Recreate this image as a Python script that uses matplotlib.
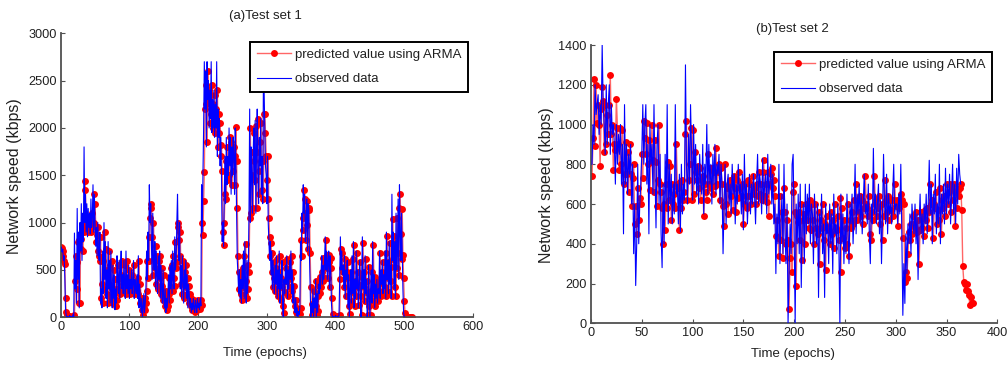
import numpy as np
import matplotlib
matplotlib.use("Agg")
import matplotlib.pyplot as plt
from matplotlib.lines import Line2D

plt.rcParams['font.family'] = ['Liberation Sans', 'DejaVu Sans']

# ---------------- Test set 1 ----------------
obs1 = [
    740, 690, 720, 600, 650, 420, 90, 20, 0, 10,
    0, 0, 20, 0, 10, 0, 0, 30, 0, 890,
    300, 600, 150, 1150, 400, 900, 100, 1000, 700, 1200,
    600, 1100, 800, 1800, 1000, 1300, 900, 1200, 850, 1150,
    950, 1100, 880, 1250, 950, 1050, 1400, 900, 1300, 1000,
    750, 950, 650, 1000, 700, 600, 900, 150, 300, 100,
    700, 250, 1000, 400, 800, 200, 500, 100, 800, 300,
    600, 150, 700, 250, 100, 550, 200, 450, 80, 300,
    150, 650, 400, 250, 600, 200, 500, 700, 300, 450,
    250, 600, 350, 200, 700, 300, 450, 250, 550, 200,
    400, 300, 500, 250, 350, 600, 200, 400, 300, 250,
    450, 200, 650, 100, 350, 150, 50, 200, 0, 100,
    250, 50, 150, 300, 700, 400, 900, 600, 1400, 1000,
    1200, 800, 400, 1100, 600, 500, 800, 300, 700, 450,
    250, 650, 400, 700, 200, 550, 300, 150, 500, 200,
    100, 300, 50, 200, 100, 250, 450, 150, 550, 300,
    600, 250, 700, 400, 300, 850, 500, 600, 1000, 1300,
    800, 600, 1000, 300, 550, 200, 650, 400, 150, 500,
    300, 600, 200, 450, 100, 350, 250, 100, 200, 50,
    150, 80, 200, 100, 50, 180, 120, 50, 200, 100,
    150, 80, 200, 120, 1400, 900, 1500, 2000, 2700, 2200,
    2600, 1800, 2700, 2300, 2500, 2000, 2400, 2100, 2700, 1950,
    2300, 2000, 2400, 1900, 2250, 2000, 2700, 1700, 2200, 1900,
    2100, 1600, 1900, 1500, 800, 1000, 750, 1300, 1700, 1200,
    1900, 1400, 1700, 1500, 2000, 1600, 1900, 1300, 1800, 1500,
    1900, 1700, 1300, 2000, 1600, 1100, 600, 450, 250, 500,
    200, 400, 150, 550, 300, 700, 200, 800, 350, 150,
    600, 250, 500, 1100, 2200, 1000, 1800, 1500, 1100, 1700,
    2000, 1400, 2080, 1100, 1800, 2200, 1500, 1200, 1900, 1600,
    2100, 1300, 1700, 1200, 2500, 2400, 2000, 1600, 1500, 1200,
    1700, 1000, 800, 600, 800, 450, 700, 300, 600, 400,
    250, 550, 350, 650, 200, 500, 300, 700, 150, 450,
    300, 600, 100, 0, 400, 250, 550, 350, 650, 200,
    500, 300, 600, 400, 700, 250, 500, 150, 350, 100,
    50, 200, 20, 100, 0, 60, 30, 100, 800, 600,
    1100, 900, 1400, 1100, 1300, 800, 1000, 1250, 700, 1200,
    1150, 650, 300, 0, 150, 50, 300, 0, 200, 100,
    400, 0, 250, 50, 350, 250, 450, 300, 500, 650,
    350, 550, 400, 600, 850, 500, 700, 400, 600, 700,
    300, 650, 500, 150, 20, 0, 10, 0, 0, 20,
    0, 0, 10, 0, 20, 400, 850, 500, 700, 450,
    550, 300, 650, 200, 500, 400, 600, 100, 450, 0,
    300, 500, 150, 650, 250, 800, 100, 400, 200, 700,
    300, 500, 100, 350, 600, 200, 0, 450, 850, 300,
    500, 150, 650, 250, 400, 0, 100, 550, 200, 0,
    300, 500, 150, 800, 250, 450, 100, 350, 200, 400,
    150, 300, 250, 700, 200, 500, 350, 600, 250, 450,
    300, 700, 200, 900, 400, 600, 250, 800, 350, 550,
    200, 1300, 600, 900, 300, 800, 200, 1100, 500, 700,
    1250, 400, 1400, 900, 600, 1100, 700, 300, 50, 0,
]

pred1 = [
    740, 730, 650, 700, 600, 560, 200, 60, 20, 0,
    5, 0, 0, 10, 0, 5, 0, 0, 20, 0,
    380, 650, 300, 580, 800, 150, 820, 150, 830, 720,
    980, 700, 950, 900, 1440, 1350, 1000, 950, 1050, 900,
    1000, 980, 1050, 900, 1100, 950, 1000, 1300, 1000, 1200,
    950, 800, 870, 700, 950, 650, 600, 850, 200, 350,
    150, 600, 300, 900, 450, 720, 250, 500, 150, 700,
    350, 550, 200, 600, 300, 150, 500, 250, 400, 120,
    300, 180, 550, 400, 300, 550, 250, 450, 600, 350,
    420, 300, 550, 350, 250, 600, 350, 420, 300, 500,
    250, 380, 300, 450, 280, 350, 550, 250, 380, 300,
    280, 420, 250, 600, 150, 350, 180, 80, 200, 20,
    100, 200, 80, 150, 280, 600, 420, 850, 600, 1050,
    1150, 1200, 850, 450, 1000, 620, 520, 750, 350, 650,
    480, 300, 600, 420, 650, 250, 520, 330, 180, 450,
    220, 120, 280, 80, 200, 120, 250, 420, 180, 520,
    320, 550, 280, 650, 420, 330, 800, 520, 580, 950,
    1000, 820, 650, 900, 350, 520, 250, 600, 420, 200,
    480, 320, 550, 250, 420, 150, 330, 250, 120, 200,
    80, 150, 100, 180, 120, 60, 170, 130, 80, 180,
    110, 140, 90, 180, 130, 1000, 870, 1230, 1530, 2200,
    2250, 2450, 1850, 2600, 2300, 2400, 2050, 2350, 2150, 2450,
    2000, 2250, 2050, 2350, 1950, 2200, 2050, 2400, 1800, 2150,
    1950, 2050, 1700, 1820, 1550, 900, 760, 1000, 1300, 1650,
    1250, 1800, 1450, 1650, 1500, 1900, 1650, 1850, 1400, 1750,
    1550, 1800, 1700, 1400, 2013, 1650, 1150, 650, 480, 300,
    480, 250, 420, 180, 520, 320, 650, 250, 770, 380,
    200, 550, 300, 480, 1050, 2000, 1100, 1750, 1500, 1150,
    1650, 1950, 1450, 2020, 1150, 1750, 2100, 1550, 1300, 1850,
    1650, 2050, 1350, 1650, 1250, 2150, 2150, 1950, 1700, 1450,
    1250, 1700, 1050, 850, 650, 780, 480, 680, 320, 580,
    420, 280, 520, 380, 620, 230, 480, 320, 650, 180,
    420, 320, 580, 120, 50, 380, 270, 520, 380, 620,
    230, 480, 320, 580, 420, 650, 280, 480, 180, 330,
    120, 60, 180, 30, 90, 10, 50, 40, 100, 820,
    650, 1050, 920, 1350, 1100, 1250, 820, 980, 1230, 720,
    1150, 1130, 680, 320, 20, 140, 60, 280, 20, 180,
    120, 380, 20, 230, 70, 330, 260, 430, 320, 480,
    630, 380, 530, 420, 580, 820, 520, 660, 420, 580,
    660, 320, 630, 520, 200, 40, 0, 10, 0, 0,
    15, 0, 0, 10, 0, 20, 400, 720, 520, 680,
    480, 530, 320, 620, 230, 480, 420, 580, 120, 430,
    30, 280, 480, 170, 620, 270, 760, 120, 380, 220,
    680, 320, 480, 130, 340, 580, 220, 20, 430, 780,
    320, 480, 170, 620, 270, 380, 20, 120, 530, 220,
    20, 280, 480, 170, 760, 270, 430, 120, 330, 220,
    380, 170, 280, 260, 680, 220, 480, 360, 580, 270,
    430, 320, 680, 220, 860, 420, 580, 270, 780, 380,
    530, 220, 1040, 620, 860, 320, 780, 230, 1050, 520,
    680, 1150, 450, 1300, 880, 620, 1140, 660, 420, 170,
    50, 10, 0, 0, 5, 0, 0, 0, 0, 0, 0,
]

# ---------------- Test set 2 ----------------
obs2 = [
    800, 1000, 900, 1200, 1050, 1100, 1150, 950, 1100, 1000,
    1400, 1100, 1000, 850, 1200, 900, 1100, 1200, 850, 1100,
    950, 1000, 900, 700, 1000, 800, 950, 850, 1000, 700,
    900, 450, 1100, 700, 900, 650, 850, 750, 900, 600,
    800, 350, 600, 190, 400, 800, 400, 600, 700, 850,
    1100, 800, 1000, 1100, 700, 900, 450, 1000, 800, 900,
    650, 1100, 750, 480, 900, 1000, 600, 850, 450, 280,
    700, 400, 850, 600, 1100, 500, 800, 600, 750, 500,
    700, 550, 1100, 650, 700, 500, 750, 460, 800, 550,
    700, 620, 1300, 800, 600, 950, 700, 1100, 850, 620,
    1000, 700, 900, 650, 800, 600, 850, 700, 650, 900,
    550, 800, 700, 1000, 650, 900, 700, 800, 600, 850,
    700, 900, 650, 800, 750, 850, 600, 800, 700, 350,
    600, 800, 500, 700, 750, 600, 700, 550, 800, 650,
    750, 500, 700, 600, 800, 650, 700, 550, 750, 470,
    850, 600, 700, 500, 650, 750, 550, 700, 600, 750,
    650, 500, 700, 850, 600, 750, 700, 550, 830, 600,
    700, 750, 550, 850, 650, 700, 800, 600, 750, 500,
    600, 250, 550, 400, 800, 300, 500, 650, 350, 800,
    450, 300, 600, 0, 250, 500, 350, 800, 850, 450,
    0, 600, 400, 650, 350, 700, 180, 500, 600, 300,
    700, 450, 650, 500, 700, 400, 600, 550, 300, 650,
    500, 400, 600, 130, 550, 450, 650, 350, 500, 130,
    600, 450, 500, 300, 600, 400, 550, 250, 650, 450,
    500, 350, 600, 400, 0, 650, 400, 550, 300, 500,
    350, 650, 450, 300, 600, 500, 650, 400, 550, 800,
    450, 650, 550, 700, 500, 650, 450, 600, 750, 550,
    600, 500, 700, 450, 300, 600, 500, 880, 550, 650,
    500, 600, 700, 450, 620, 300, 550, 850, 600, 500,
    750, 450, 650, 550, 600, 500, 650, 800, 550, 600,
    600, 500, 650, 550, 800, 450, 40, 300, 100, 450,
    250, 500, 400, 550, 350, 600, 500, 450, 600, 400,
    550, 220, 500, 650, 450, 550, 400, 600, 500, 650,
    450, 600, 820, 550, 700, 400, 650, 550, 750, 450,
    600, 500, 800, 400, 650, 550, 700, 500, 780, 550,
    700, 600, 750, 500, 650, 800, 550, 700, 500, 780,
    600, 850, 750, 700,
]

pred2 = [
    740, 930, 1230, 890, 1200, 1010, 1100, 1000, 790, 1080,
    1190, 1120, 860, 1100, 900, 1050, 950, 1100, 1250, 950,
    1000, 770, 900, 870, 1130, 980, 900, 770, 980, 800,
    970, 700, 750, 910, 750, 860, 660, 900, 750, 590,
    730, 800, 500, 590, 450, 680, 520, 630, 600, 850,
    730, 1020, 930, 850, 1010, 800, 920, 670, 810, 1000,
    820, 660, 920, 810, 590, 720, 1000, 700, 660, 580,
    400, 600, 470, 700, 580, 810, 620, 790, 520, 700,
    600, 650, 580, 900, 700, 680, 470, 710, 580, 720,
    620, 660, 950, 1020, 620, 720, 800, 980, 620, 970,
    650, 860, 760, 720, 790, 680, 780, 620, 720, 740,
    540, 700, 660, 620, 850, 700, 780, 680, 780, 650,
    760, 690, 880, 700, 760, 800, 620, 780, 700, 590,
    490, 800, 600, 680, 550, 700, 720, 640, 700, 570,
    740, 680, 560, 720, 630, 760, 680, 640, 700, 500,
    600, 700, 640, 580, 720, 640, 700, 600, 740, 650,
    680, 600, 700, 640, 760, 650, 700, 620, 760, 820,
    640, 700, 610, 760, 540, 700, 750, 780, 680, 720,
    640, 440, 520, 430, 340, 640, 420, 560, 330, 680,
    560, 400, 520, 420, 70, 330, 400, 260, 660, 700,
    560, 190, 540, 510, 560, 420, 600, 320, 520, 550,
    400, 600, 520, 580, 480, 620, 470, 600, 520, 400,
    600, 480, 450, 560, 300, 520, 480, 600, 420, 500,
    270, 540, 480, 470, 400, 560, 450, 520, 380, 600,
    480, 470, 540, 420, 630, 260, 580, 430, 520, 380,
    480, 400, 600, 340, 520, 480, 560, 500, 620, 520,
    700, 520, 620, 560, 640, 540, 620, 500, 580, 740,
    600, 580, 540, 640, 450, 420, 560, 520, 740, 600,
    620, 540, 580, 640, 500, 600, 420, 540, 720, 620,
    560, 640, 520, 620, 570, 620, 540, 620, 700, 590,
    620, 490, 580, 600, 650, 620, 430, 600, 210, 260,
    230, 350, 460, 420, 500, 450, 540, 500, 480, 560,
    460, 520, 300, 470, 560, 480, 530, 440, 570, 520,
    580, 480, 560, 700, 600, 620, 430, 600, 580, 660,
    500, 570, 520, 680, 450, 620, 580, 640, 540, 700,
    600, 660, 700, 560, 680, 620, 700, 490, 660, 580,
    670, 640, 680, 700, 570, 290, 210, 200, 170, 200,
    160, 140, 90, 130, 100, 100,
]

titles = ["(a)Test set 1", "(b)Test set 2"]
xlabel = "Time (epochs)"
ylabel = "Network speed (kbps)"
legend_labels = ["predicted value using ARMA", "observed data"]
xticks1 = [0, 100, 200, 300, 400, 500, 600]
yticks1 = [0, 500, 1000, 1500, 2000, 2500, 3000]
xticks2 = [0, 50, 100, 150, 200, 250, 300, 350, 400]
yticks2 = [0, 200, 400, 600, 800, 1000, 1200, 1400]

W, H = 1007, 365
fig = plt.figure(figsize=(W / 100, H / 100), dpi=100)

def fx(px):
    return px / W

def fy(py):
    return 1 - py / H

ax1 = fig.add_axes([fx(60.7), fy(317.3), fx(473.0 - 60.7), (317.3 - 33.3) / H])
ax2 = fig.add_axes([fx(591.0), fy(323.3), fx(997.3 - 591.0), (323.3 - 45.0) / H])

red_line = (1.0, 0.4, 0.4)
axis_col = '#505050'
txt_col = '#202020'
TICK_FS = 9.2
TXT_FS = 9.5

def draw(ax, obs, pred, xt, yt, xlim, ylim):
    xp = np.arange(1, len(pred) + 1)
    xo = np.arange(1, len(obs) + 1)
    ax.plot(xp, pred, '-', color=red_line, lw=1.0, marker='o', ms=5.0,
            mfc='red', mec='red', mew=0, zorder=2)
    ax.plot(xo, obs, '-', color='#0000ff', lw=0.8, zorder=3)
    ax.set_xlim(*xlim)
    ax.set_ylim(*ylim)
    ax.set_xticks(xt)
    ax.set_yticks(yt)
    for s in ['top', 'right']:
        ax.spines[s].set_visible(False)
    for s in ['left', 'bottom']:
        ax.spines[s].set_color(axis_col)
        ax.spines[s].set_linewidth(1.3)
    ax.tick_params(direction='in', length=3, width=0.8, color=axis_col,
                   labelsize=TICK_FS, labelcolor=txt_col, pad=3)

draw(ax1, obs1, pred1, xticks1, yticks1, (0, 600), (0, 3000))
draw(ax2, obs2, pred2, xticks2, yticks2, (0, 400), (0, 1400))

handles = [Line2D([], [], color=red_line, lw=1.0, marker='o', ms=5.0,
                  mfc='red', mec='red', mew=0),
           Line2D([], [], color='#0000ff', lw=0.8)]

def add_legend(ax, x1, ytop, fs):
    leg = ax.legend(handles, legend_labels, loc='upper right',
                    bbox_to_anchor=(fx(x1), fy(ytop)),
                    bbox_transform=fig.transFigure, fontsize=fs,
                    frameon=True, fancybox=False, borderaxespad=0,
                    handlelength=2.6, handletextpad=0.3, borderpad=0.5,
                    labelspacing=0.95)
    fr = leg.get_frame()
    fr.set_edgecolor('black')
    fr.set_linewidth(1.4)
    fr.set_alpha(1)
    leg.set_zorder(10)
    for t in leg.get_texts():
        t.set_color(txt_col)

add_legend(ax1, 468, 41.7, TXT_FS)
add_legend(ax2, 992.3, 51.7, TXT_FS)

fig.text(fx(265), fy(16), titles[0], ha='center', va='center', fontsize=TXT_FS, color=txt_col)
fig.text(fx(792.7), fy(29), titles[1], ha='center', va='center', fontsize=TXT_FS, color=txt_col)
fig.text(fx(265.3), fy(352.7), xlabel, ha='center', va='center', fontsize=TXT_FS, color=txt_col)
fig.text(fx(793), fy(354), xlabel, ha='center', va='center', fontsize=TXT_FS, color=txt_col)
fig.text(fx(15), fy(176), ylabel, ha='center', va='center', rotation=90, fontsize=11.5,
         color=txt_col)
fig.text(fx(546.7), fy(185), ylabel, ha='center', va='center', rotation=90, fontsize=11.5,
         color=txt_col)

fig.savefig('out.png', dpi=100)
